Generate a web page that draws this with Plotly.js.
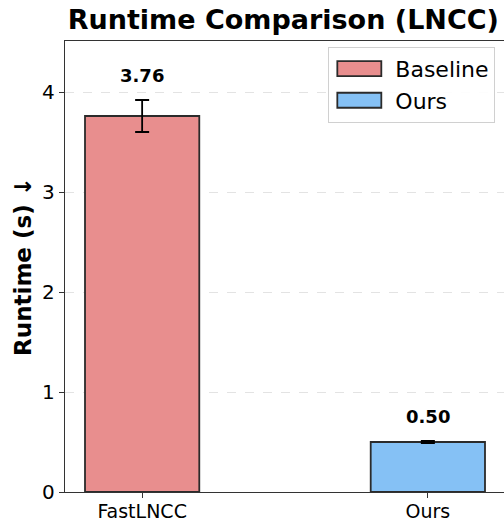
<!DOCTYPE html>
<html><head><meta charset="utf-8">
<script src="https://cdn.plot.ly/plotly-3.0.1.min.js"></script>
<style>html,body{margin:0;padding:0;overflow:hidden;background:#fff}</style>
</head><body><div id="chart"></div>
<script>
const categories = ["FastLNCC", "Ours"];
const seriesNames = ["Baseline", "Ours"];
const runtimes = [3.76, 0.50];
const errors = [0.16, 0.01];
const valueLabels = ["3.76", "0.50"];
const colors = ["#E88E8E", "#85C1F5"];

const traces = categories.map((c, i) => ({
  type: "bar",
  name: seriesNames[i],
  x: [c],
  y: [runtimes[i]],
  width: 0.4,
  marker: {color: colors[i], line: {color: "#2b2b2b", width: 1.8}},
  error_y: {type: "data", array: [errors[i]], visible: true, color: "#000", thickness: 1.8, width: 7},
  hoverinfo: "skip"
}));

const annotations = categories.map((c, i) => ({
  x: c, y: runtimes[i] + errors[i], xref: "x", yref: "y",
  text: "<b>" + valueLabels[i] + "</b>", showarrow: false,
  yanchor: "bottom", yshift: 12,
  font: {family: "DejaVu Sans", size: 18, color: "#000"}
}));

const layout = {
  width: 505, height: 523,
  margin: {l: 65, r: 0, t: 41, b: 31},
  paper_bgcolor: "#fff", plot_bgcolor: "#fff",
  font: {family: "DejaVu Sans", color: "#000"},
  title: {text: "<b>Runtime Comparison (LNCC)</b>", font: {family: "DejaVu Sans", size: 27, color: "#000"},
          x: 0.561, xanchor: "center", y: 0.962, yanchor: "middle"},
  barmode: "overlay",
  showlegend: true,
  legend: {x: 0.978, xanchor: "right", y: 0.987, yanchor: "top",
           bgcolor: "rgba(255,255,255,0.9)", bordercolor: "#d0d0d0", borderwidth: 1,
           font: {family: "DejaVu Sans", size: 22, color: "#000"}, itemwidth: 56},
  xaxis: {type: "category", range: [-0.27, 1.27], showline: true, linecolor: "#333", linewidth: 1.2,
          mirror: true, ticks: "outside", ticklen: 5, tickcolor: "#333", showgrid: false,
          ticklabelstandoff: -3,
          tickfont: {family: "DejaVu Sans", size: 19, color: "#000"}, fixedrange: true},
  yaxis: {range: [0, 4.51], showline: true, linecolor: "#333", linewidth: 1.2, mirror: true,
          ticks: "outside", ticklen: 5, tickcolor: "#333", tickvals: [0,1,2,3,4],
          showgrid: true, gridcolor: "#e3e3e3", griddash: "dash", gridwidth: 1, zeroline: false,
          tickfont: {family: "DejaVu Sans", size: 20, color: "#000"},
          title: {text: "<b>Runtime (s) ↓</b>", font: {family: "DejaVu Sans", size: 23, color: "#000"}, standoff: 4}},
  annotations: annotations
};

Plotly.newPlot("chart", traces, layout, {displayModeBar: false, staticPlot: true}).then(gd => {
  // widen the legend swatches to the reference's wide rectangles
  gd.querySelectorAll(".legend .legendpoints path").forEach(p => {
    p.setAttribute("d", "M19,7.5H-25V-7.5H19Z");
  });
});
</script></body></html>
